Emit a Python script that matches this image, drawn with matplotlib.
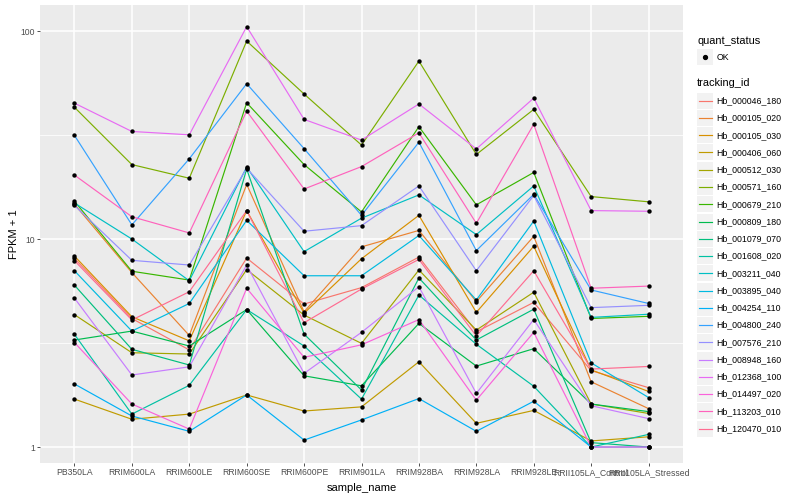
import matplotlib
matplotlib.use("Agg")
import matplotlib.pyplot as plt
from matplotlib.patches import Rectangle
from matplotlib.lines import Line2D

plt.rcParams['font.family'] = ['Liberation Sans', 'DejaVu Sans']

samples = ["PB350LA", "RRIM600LA", "RRIM600LE", "RRIM600SE", "RRIM600PE",
           "RRIM901LA", "RRIM928BA", "RRIM928LA", "RRIM928LE",
           "RRII105LA_Control", "RRII105LA_Stressed"]

tracking_ids = ["Hb_000046_180", "Hb_000105_020", "Hb_000105_030", "Hb_000406_060",
                "Hb_000512_030", "Hb_000571_160", "Hb_000679_210", "Hb_000809_180",
                "Hb_001079_070", "Hb_001608_020", "Hb_003211_040", "Hb_003895_040",
                "Hb_004254_110", "Hb_004800_240", "Hb_007576_210", "Hb_008948_160",
                "Hb_012368_100", "Hb_014497_020", "Hb_113203_010", "Hb_120470_010"]

line_colors = ["#F8766D", "#EA8331", "#D89000", "#C09B00", "#A3A500", "#7CAE00",
               "#39B600", "#00BB4E", "#00BF7D", "#00C1A3", "#00BFC4", "#00BAE0",
               "#00B0F6", "#35A2FF", "#9590FF", "#C77CFF", "#E76BF3", "#FA62DB",
               "#FF62BC", "#FF6C91"]

# FPKM + 1 per sample (order of `samples`)
hb_000046_180 = [8.07, 4.15, 2.93, 8.1, 4.87, 5.84, 8.19, 3.58, 4.96, 2.33, 1.93]
hb_000105_020 = [14.7, 6.9, 3.44, 18.3, 4.47, 9.17, 11.0, 5.0, 10.3, 2.06, 1.53]
hb_000105_030 = [8.28, 4.23, 3.24, 13.7, 4.4, 8.04, 13.0, 4.44, 9.23, 2.35, 1.85]
hb_000406_060 = [1.70, 1.36, 1.44, 1.78, 1.49, 1.56, 2.57, 1.30, 1.50, 1.07, 1.12]
hb_000512_030 = [4.33, 2.84, 2.80, 7.13, 4.31, 3.15, 7.1, 3.65, 5.55, 1.61, 1.45]
hb_000571_160 = [43.0, 22.8, 19.6, 89.5, 49.8, 28.3, 71.7, 25.5, 42.0, 16.0, 15.1]
hb_000679_210 = [15.2, 7.0, 6.35, 45.2, 22.8, 13.5, 34.7, 14.6, 20.9, 4.15, 4.25]
hb_000809_180 = [3.27, 3.61, 3.06, 4.58, 2.2, 1.97, 3.93, 2.45, 2.97, 1.61, 1.48]
hb_001079_070 = [6.0, 2.95, 2.48, 21.7, 3.49, 1.88, 6.5, 3.27, 4.6, 1.05, 1.0]
hb_001608_020 = [3.48, 1.44, 1.98, 4.58, 3.06, 1.70, 5.38, 3.12, 1.96, 1.0, 1.15]
hb_003211_040 = [14.9, 10.0, 6.3, 22.2, 8.7, 12.6, 16.3, 10.5, 18.0, 4.2, 4.35]
hb_003895_040 = [7.04, 3.61, 4.9, 12.3, 6.66, 6.66, 10.4, 5.09, 12.2, 2.54, 1.73]
hb_004254_110 = [2.01, 1.41, 1.19, 1.78, 1.08, 1.35, 1.71, 1.19, 1.66, 1.0, 1.0]
hb_004800_240 = [31.5, 11.7, 24.3, 55.8, 27.2, 13.0, 29.2, 8.8, 16.4, 5.69, 4.9]
hb_007576_210 = [14.5, 7.9, 7.5, 21.9, 10.9, 11.6, 18.0, 7.04, 16.2, 4.68, 4.8]
hb_008948_160 = [5.2, 2.22, 2.43, 7.5, 2.26, 3.56, 5.9, 1.81, 4.1, 1.58, 1.37]
hb_012368_100 = [45.0, 32.9, 31.7, 105.0, 37.6, 29.9, 44.6, 27.1, 47.6, 13.7, 13.6]
hb_014497_020 = [3.18, 1.61, 1.22, 5.8, 2.7, 3.1, 4.1, 1.68, 3.56, 1.0, 1.0]
hb_113203_010 = [20.3, 12.8, 10.7, 41.2, 17.4, 22.3, 32.4, 11.9, 35.6, 5.8, 5.94]
hb_120470_010 = [7.87, 4.08, 5.58, 13.7, 3.96, 5.75, 7.98, 3.42, 7.04, 2.37, 2.44]

series = [hb_000046_180, hb_000105_020, hb_000105_030, hb_000406_060, hb_000512_030,
          hb_000571_160, hb_000679_210, hb_000809_180, hb_001079_070, hb_001608_020,
          hb_003211_040, hb_003895_040, hb_004254_110, hb_004800_240, hb_007576_210,
          hb_008948_160, hb_012368_100, hb_014497_020, hb_113203_010, hb_120470_010]

W, H = 800, 500
fig = plt.figure(figsize=(8, 5), dpi=100)
L, R, T, B = 40, 683, 5, 463
ax = fig.add_axes([L / W, 1 - B / H, (R - L) / W, (B - T) / H])
ax.set_facecolor("#EBEBEB")

x = list(range(len(samples)))
for vals, col in zip(series, line_colors):
    ax.plot(x, vals, color=col, lw=0.85, zorder=2, solid_capstyle='butt')
for vals in series:
    ax.scatter(x, vals, s=10, color="black", zorder=3, linewidths=0, marker='o')

ax.set_yscale("log")
ax.set_ylim(0.838, 133.4)
ax.set_xlim(-0.6, 10.6)
ax.set_yticks([1, 10, 100])
ax.set_yticklabels(["1", "10", "100"])
ax.set_yticks([10 ** 0.5, 10 ** 1.5], minor=True)
ax.yaxis.set_minor_formatter(plt.NullFormatter())
ax.set_xticks(x)
ax.set_xticklabels(samples)
ax.grid(which="major", color="white", lw=1.1, zorder=0)
ax.grid(which="minor", axis="y", color="white", lw=0.55, zorder=0)
ax.set_axisbelow(True)
for s in ax.spines.values():
    s.set_visible(False)
ax.tick_params(axis="both", which="major", length=2.2, width=0.6, color="#333333",
               labelsize=6.2, labelcolor="#4D4D4D", pad=1.5)
ax.tick_params(axis="both", which="minor", length=0)
ax.set_xlabel("sample_name", fontsize=8, labelpad=4)
ax.set_ylabel("FPKM + 1", fontsize=8, labelpad=1)


def fx(px):
    return px / W


def fy(py):
    return 1 - py / H


# legend: quant_status
fig.text(fx(697), fy(41), "quant_status", fontsize=7.9, va="center", ha="left")
fig.add_artist(Rectangle((fx(697), fy(65)), 16 / W, 16 / H, transform=fig.transFigure,
                         facecolor="#F2F2F2", edgecolor="none"))
fig.add_artist(Line2D([fx(705)], [fy(57)], marker='o', markersize=2.8, color="black",
                      linestyle="none", transform=fig.transFigure))
fig.text(fx(717), fy(57), "OK", fontsize=6.3, va="center", ha="left")

# legend: tracking_id
fig.text(fx(697), fy(83.5), "tracking_id", fontsize=7.9, va="center", ha="left")
for i, (name, col) in enumerate(zip(tracking_ids, line_colors)):
    cy = 100.7 + i * 17.26
    fig.add_artist(Rectangle((fx(697), fy(cy + 8)), 16 / W, 16 / H,
                             transform=fig.transFigure, facecolor="#F2F2F2",
                             edgecolor="none"))
    fig.add_artist(Line2D([fx(698.5), fx(711.5)], [fy(cy), fy(cy)], color=col, lw=0.85,
                          transform=fig.transFigure))
    fig.text(fx(716.7), fy(cy), name, fontsize=6.3, va="center", ha="left")

fig.savefig("out.png", dpi=100, facecolor="white")
